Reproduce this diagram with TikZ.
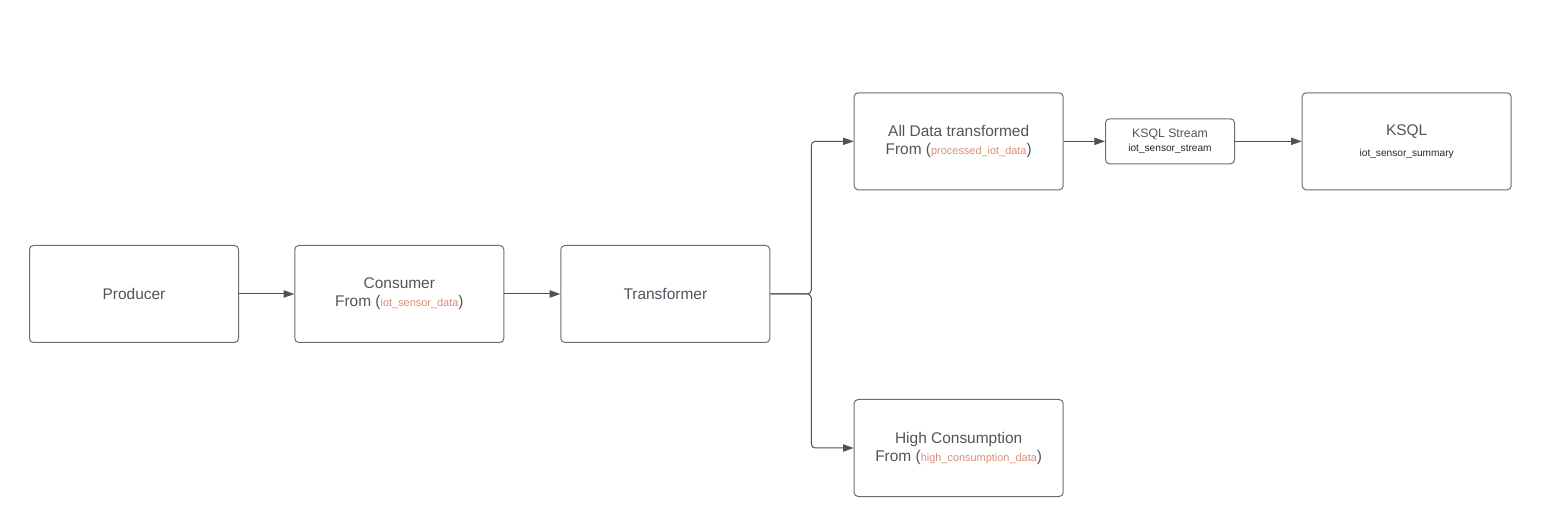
\documentclass[tikz,border=0pt]{standalone}
\usepackage{fontspec}
\setmainfont{Liberation Sans}
\usepackage{xcolor}
\usetikzlibrary{arrows.meta,positioning}

\definecolor{boxline}{HTML}{6B6E75}
\definecolor{txtgray}{HTML}{50545C}
\definecolor{topic}{HTML}{D68E76}
\definecolor{wire}{HTML}{4F5259}

\newcommand{\topicname}[1]{{\fontsize{8.2}{10}\selectfont\color{topic}#1}}
\newcommand{\subname}[1]{{\fontsize{7.6}{9}\selectfont\color{black!85}#1}}

\begin{document}
\begin{tikzpicture}[
    every node/.style={font=\fontsize{11.6}{13.5}\selectfont, text=txtgray},
    box/.style={draw=boxline, line width=0.75pt, rounded corners=3pt, minimum width=156.75pt, minimum height=72.75pt, inner sep=0pt, align=center},
    smallbox/.style={draw=boxline, line width=0.75pt, rounded corners=3pt, minimum width=96.75pt, minimum height=33.75pt, inner sep=0pt, align=center, font=\fontsize{9.2}{10.5}\selectfont},
    arr/.style={-{Triangle[length=8pt,width=5.5pt]}, draw=wire, line width=0.75pt},
  ]
  \useasboundingbox (0,0) rectangle (1164pt,-392.25pt);

  % Pipeline row
  \node[box] (producer) at (100.5pt,-220.5pt) {Producer};
  \node[box, right=41.5pt of producer] (consumer) {Consumer\\From (\topicname{iot\_sensor\_data})};
  \node[box, right=42pt of consumer] (transformer) {Transformer};

  % Branches
  \node[box, above right=41pt and 62.5pt of transformer] (alldata) {All Data transformed\\From (\topicname{processed\_iot\_data})};
  \node[box, below right=42pt and 62.5pt of transformer] (highcons) {High Consumption\\From (\topicname{high\_consumption\_data})};

  % KSQL side
  \node[smallbox, right=31pt of alldata] (stream) {KSQL Stream\\\subname{iot\_sensor\_stream}};
  \node[box, right=50pt of stream] (ksql) {KSQL\\[2pt]\subname{iot\_sensor\_summary}};

  % Arrows
  \coordinate (split) at ([xshift=30.75pt]transformer.east);
  \draw[arr] (producer) -- (consumer);
  \draw[arr] (consumer) -- (transformer);
  \draw[arr, rounded corners=3pt] (transformer.east) -- (split) |- (alldata.west);
  \draw[arr, rounded corners=3pt] (transformer.east) -- (split) |- (highcons.west);
  \draw[arr] (alldata) -- (stream);
  \draw[arr] (stream) -- (ksql);

\end{tikzpicture}
\end{document}
